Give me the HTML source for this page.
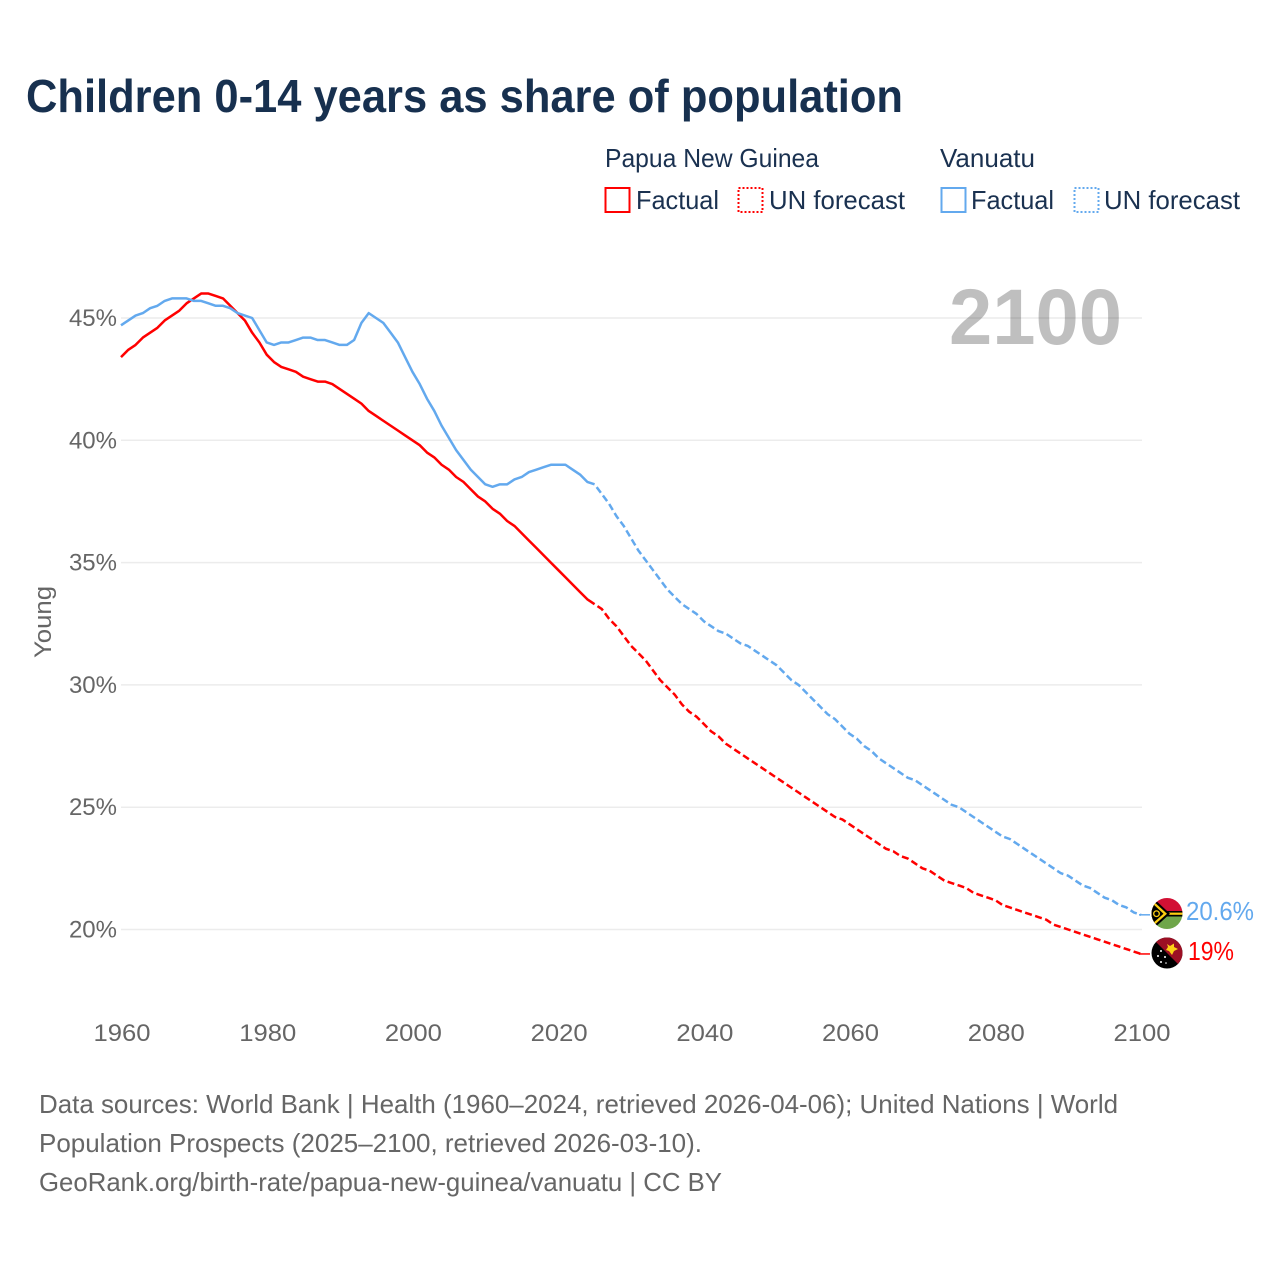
<!DOCTYPE html>
<html lang="en">
<head>
<meta charset="utf-8">
<title>Children 0-14 years as share of population</title>
<style>
html,body{margin:0;padding:0;background:#fff;width:1280px;height:1280px;overflow:hidden}
svg{display:block}
text{font-family:"Liberation Sans",sans-serif}
</style>
</head>
<body>
<svg id="chart" xmlns="http://www.w3.org/2000/svg" width="1280" height="1280" viewBox="0 0 1280 1280">
  <defs>
    <clipPath id="flag-clip-vu"><circle cx="1167" cy="913.5" r="15.5"/></clipPath>
    <clipPath id="flag-clip-pg"><circle cx="1167" cy="953" r="15.5"/></clipPath>
  </defs>
  <rect x="0" y="0" width="1280" height="1280" fill="#fff"/>
  <text x="26" y="112" font-size="46" font-weight="700" fill="#17304f" textLength="877" lengthAdjust="spacingAndGlyphs">Children 0-14 years as share of population</text>

  <g font-size="26" fill="#1a3150">
    <text x="605" y="167" textLength="214" lengthAdjust="spacingAndGlyphs">Papua New Guinea</text>
    <text x="940" y="167" textLength="95" lengthAdjust="spacingAndGlyphs">Vanuatu</text>
    <rect x="605.5" y="188" width="24" height="24" fill="none" stroke="#ff0000" stroke-width="2"/>
    <text x="636" y="209" textLength="83" lengthAdjust="spacingAndGlyphs">Factual</text>
    <rect x="738.5" y="188" width="24" height="24" fill="none" stroke="#ff0000" stroke-width="2" stroke-dasharray="2 2"/>
    <text x="769" y="209" textLength="136" lengthAdjust="spacingAndGlyphs">UN forecast</text>
    <rect x="941.5" y="188" width="24" height="24" fill="none" stroke="#63a9ee" stroke-width="2"/>
    <text x="971" y="209" textLength="83" lengthAdjust="spacingAndGlyphs">Factual</text>
    <rect x="1074.5" y="188" width="24" height="24" fill="none" stroke="#63a9ee" stroke-width="2" stroke-dasharray="2 2"/>
    <text x="1104" y="209" textLength="136" lengthAdjust="spacingAndGlyphs">UN forecast</text>
  </g>

  <g id="grid"></g>
  <text x="949" y="344" font-size="79" font-weight="700" fill="#000" fill-opacity="0.25" textLength="173" lengthAdjust="spacingAndGlyphs">2100</text>
  <g id="y-ticks"></g>
  <g id="x-ticks"></g>
  <text transform="translate(51 622) rotate(-90)" text-anchor="middle" font-size="24" fill="#666" textLength="72" lengthAdjust="spacingAndGlyphs">Young</text>
  <g id="series"></g>

  <g clip-path="url(#flag-clip-vu)">
    <rect x="1151" y="898" width="32" height="16" fill="#d21034"/>
    <rect x="1151" y="914" width="32" height="16" fill="#6fa64a"/>
    <rect x="1151" y="911" width="32" height="5.5" fill="#000"/>
    <rect x="1162" y="912.6" width="21" height="2.2" fill="#fdce12"/>
    <polygon points="1151,896 1151,931 1170,913.7" fill="#000"/>
    <polygon points="1151,899 1151,928 1167,913.7" fill="#fdce12"/>
    <polygon points="1151,902 1151,925 1163.5,913.7" fill="#000"/>
    <circle cx="1156.5" cy="913.7" r="2.8" fill="none" stroke="#fdce12" stroke-width="1.3"/>
  </g>
  <g clip-path="url(#flag-clip-pg)">
    <rect x="1151" y="937" width="32" height="32" fill="#000"/>
    <polygon points="1151,937 1183,937 1183,969" fill="#9c0f24"/>
    <polygon points="1167,944 1170,946 1174,943.5 1174,947 1178,949 1174,951 1172,955 1169,951 1166,950 1168,947" fill="#fcd116"/>
    <circle cx="1161" cy="951" r="1" fill="#fff"/>
    <circle cx="1158" cy="956" r="1" fill="#fff"/>
    <circle cx="1165" cy="957" r="1" fill="#fff"/>
    <circle cx="1161" cy="962" r="1" fill="#fff"/>
    <circle cx="1166" cy="963" r="0.8" fill="#fff"/>
  </g>
  <text id="label-vu" x="1186" y="920" font-size="26" fill="#63a9ee" textLength="68" lengthAdjust="spacingAndGlyphs">20.6%</text>
  <text id="label-pg" x="1188" y="960" font-size="26" fill="#ff0000" textLength="46" lengthAdjust="spacingAndGlyphs">19%</text>

  <g font-size="26" fill="#666">
    <text x="39" y="1113" textLength="1079" lengthAdjust="spacingAndGlyphs">Data sources: World Bank | Health (1960–2024, retrieved 2026-04-06); United Nations | World</text>
    <text x="39" y="1152" textLength="663" lengthAdjust="spacingAndGlyphs">Population Prospects (2025–2100, retrieved 2026-03-10).</text>
    <text x="39" y="1191" textLength="683" lengthAdjust="spacingAndGlyphs">GeoRank.org/birth-rate/papua-new-guinea/vanuatu | CC BY</text>
  </g>
</svg>
<script>
const yTickValues = [45, 40, 35, 30, 25, 20];
const yTickLabels = ['45%', '40%', '35%', '30%', '25%', '20%'];
const xTickValues = [1960, 1980, 2000, 2020, 2040, 2060, 2080, 2100];
const xTickLabels = ['1960', '1980', '2000', '2020', '2040', '2060', '2080', '2100'];
const factualStartYear = 1960;
const forecastStartYear = 2025;
const pngFactual = [43.4,43.7,43.9,44.2,44.4,44.6,44.9,45.1,45.3,45.6,45.8,46.0,46.0,45.9,45.8,45.5,45.2,44.9,44.4,44.0,43.5,43.2,43.0,42.9,42.8,42.6,42.5,42.4,42.4,42.3,42.1,41.9,41.7,41.5,41.2,41.0,40.8,40.6,40.4,40.2,40.0,39.8,39.5,39.3,39.0,38.8,38.5,38.3,38.0,37.7,37.5,37.2,37.0,36.7,36.5,36.2,35.9,35.6,35.3,35.0,34.7,34.4,34.1,33.8,33.5,33.3];
const pngForecast = [33.3,33.1,32.7,32.4,32.0,31.6,31.3,31.0,30.6,30.2,29.9,29.6,29.2,28.9,28.7,28.4,28.1,27.9,27.6,27.4,27.2,27.0,26.8,26.6,26.4,26.2,26.0,25.8,25.6,25.4,25.2,25.0,24.8,24.6,24.5,24.3,24.1,23.9,23.7,23.5,23.3,23.2,23.0,22.9,22.7,22.5,22.4,22.2,22.0,21.9,21.8,21.7,21.5,21.4,21.3,21.2,21.0,20.9,20.8,20.7,20.6,20.5,20.4,20.2,20.1,20.0,19.9,19.8,19.7,19.6,19.5,19.4,19.3,19.2,19.1,19.0];
const vanuatuFactual = [44.7,44.9,45.1,45.2,45.4,45.5,45.7,45.8,45.8,45.8,45.7,45.7,45.6,45.5,45.5,45.4,45.2,45.1,45.0,44.5,44.0,43.9,44.0,44.0,44.1,44.2,44.2,44.1,44.1,44.0,43.9,43.9,44.1,44.8,45.2,45.0,44.8,44.4,44.0,43.4,42.8,42.3,41.7,41.2,40.6,40.1,39.6,39.2,38.8,38.5,38.2,38.1,38.2,38.2,38.4,38.5,38.7,38.8,38.9,39.0,39.0,39.0,38.8,38.6,38.3,38.2];
const vanuatuForecast = [38.2,37.8,37.4,36.9,36.5,36.0,35.5,35.1,34.7,34.3,33.9,33.6,33.3,33.1,32.9,32.6,32.4,32.2,32.1,31.9,31.7,31.6,31.4,31.2,31.0,30.8,30.5,30.2,30.0,29.7,29.4,29.1,28.8,28.6,28.3,28.0,27.8,27.5,27.3,27.0,26.8,26.6,26.4,26.2,26.1,25.9,25.7,25.5,25.3,25.1,25.0,24.8,24.6,24.4,24.2,24.0,23.8,23.7,23.5,23.3,23.1,22.9,22.7,22.5,22.3,22.2,22.0,21.8,21.7,21.5,21.3,21.2,21.0,20.9,20.7,20.6];

const SVG_NS = 'http://www.w3.org/2000/svg';
function xScale(year) { return 121 + (year - 1960) * 1020 / 140; }
function yScale(pct) { return 318 + (45 - pct) * (929.5 - 318) / 25; }
function makeEl(tag) { return document.createElementNS(SVG_NS, tag); }

const gridGroup = document.getElementById('grid');
const yTickGroup = document.getElementById('y-ticks');
yTickValues.forEach(function (v, i) {
  const line = makeEl('line');
  
  
  line.setAttribute('x1', xScale(1960));
  line.setAttribute('x2', xScale(2100) + 1);
  line.setAttribute('y1', yScale(v));
  line.setAttribute('y2', yScale(v));
  line.setAttribute('stroke', '#ececec');
  line.setAttribute('stroke-width', '1.5');
  gridGroup.appendChild(line);
  const label = makeEl('text');
  
  
  label.setAttribute('x', 117);
  label.setAttribute('y', yScale(v) + 8);
  label.setAttribute('text-anchor', 'end');
  label.setAttribute('font-size', '24');
  label.setAttribute('fill', '#666');
  label.textContent = yTickLabels[i];
  yTickGroup.appendChild(label);
});

const xTickGroup = document.getElementById('x-ticks');
xTickValues.forEach(function (v, i) {
  const label = makeEl('text');
  
  
  label.setAttribute('x', xScale(v) + 1);
  label.setAttribute('y', 1041);
  label.setAttribute('text-anchor', 'middle');
  label.setAttribute('font-size', '24');
  label.setAttribute('fill', '#666');
  label.setAttribute('textLength', '57');
  label.setAttribute('lengthAdjust', 'spacingAndGlyphs');
  label.textContent = xTickLabels[i];
  xTickGroup.appendChild(label);
});

function linePath(values, startYear) {
  return values.map(function (v, i) {
    return (i ? 'L' : 'M') + xScale(startYear + i).toFixed(2) + ' ' + yScale(v).toFixed(2);
  }).join(' ');
}

const seriesGroup = document.getElementById('series');
function drawSeries(values, startYear, color, dashed, name) {
  const path = makeEl('path');
  
  
  path.setAttribute('d', linePath(values, startYear));
  path.setAttribute('fill', 'none');
  path.setAttribute('stroke', color);
  path.setAttribute('stroke-width', '2.5');
  path.setAttribute('stroke-linejoin', 'round');
  if (dashed) {
    path.setAttribute('stroke-dasharray', '7 3.5');
    path.setAttribute('stroke-dashoffset', '7');
  }
  seriesGroup.appendChild(path);
}
function drawConnector(values, color, name) {
  const last = values[values.length - 1];
  const line = makeEl('line');
  
  
  line.setAttribute('x1', xScale(2100) - 2);
  line.setAttribute('x2', xScale(2100) + 9);
  line.setAttribute('y1', yScale(last));
  line.setAttribute('y2', yScale(last));
  line.setAttribute('stroke', color);
  line.setAttribute('stroke-width', '1.5');
  seriesGroup.appendChild(line);
}
drawSeries(pngFactual, factualStartYear, '#ff0000', false, 'png-factual-line');
drawSeries(pngForecast, forecastStartYear, '#ff0000', true, 'png-forecast-line');
drawSeries(vanuatuFactual, factualStartYear, '#63a9ee', false, 'vanuatu-factual-line');
drawSeries(vanuatuForecast, forecastStartYear, '#63a9ee', true, 'vanuatu-forecast-line');
drawConnector(pngForecast, '#ff0000', 'png-end-connector');
drawConnector(vanuatuForecast, '#63a9ee', 'vanuatu-end-connector');
</script>
</body>
</html>
